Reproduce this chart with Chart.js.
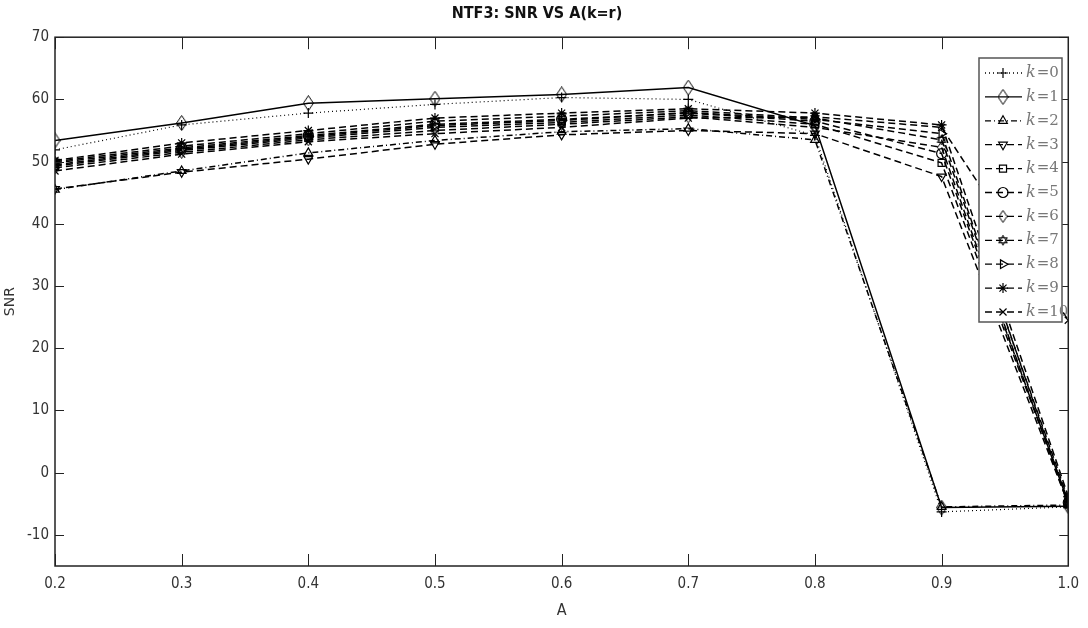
<!DOCTYPE html>
<html>
<head>
<meta charset="utf-8">
<script src="https://cdn.jsdelivr.net/npm/chart.js@4.4.1/dist/chart.umd.min.js"></script>
<style>
html,body{margin:0;padding:0;background:#fff;}
#wrap{width:1088px;height:628px;}
</style>
</head>
<body>
<div id="wrap"><canvas id="c" width="1088" height="628"></canvas></div>
<script>
// ---- data ----
const aValues = [0.2, 0.3, 0.4, 0.5, 0.6, 0.7, 0.8, 0.9, 1.0];
const xTickLabels = [0.2, 0.3, 0.4, 0.5, 0.6, 0.7, 0.8, 0.9, 1.0];
const yTickLabels = [-10, 0, 10, 20, 30, 40, 50, 60, 70];
const seriesNames = ['k=0','k=1','k=2','k=3','k=4','k=5','k=6','k=7','k=8','k=9','k=10'];
const snrK0  = [51.9, 55.9, 57.8, 59.2, 60.3, 60.0, 54.2, -6.3, -5.5];
const snrK1  = [53.4, 56.2, 59.4, 60.1, 60.8, 61.9, 55.8, -5.6, -5.4];
const snrK2  = [45.5, 48.5, 51.4, 53.4, 54.8, 55.3, 53.5, -5.5, -5.2];
const snrK3  = [45.6, 48.3, 50.4, 52.8, 54.3, 55.0, 54.5, 47.6, -5.0];
const snrK4  = [49.3, 51.8, 53.8, 55.5, 56.3, 57.5, 56.0, 49.8, -4.6];
const snrK5  = [49.8, 52.2, 54.2, 56.0, 56.8, 57.8, 56.5, 51.3, -4.8];
const snrK6  = [49.0, 51.5, 53.5, 55.0, 56.0, 57.2, 55.5, 52.3, -5.2];
const snrK7  = [50.0, 52.5, 54.5, 56.5, 57.3, 58.2, 57.0, 53.5, -4.3];
const snrK8  = [49.5, 52.0, 54.0, 55.8, 56.6, 57.9, 56.8, 54.5, -5.0];
const snrK9  = [50.2, 53.0, 55.0, 57.0, 57.8, 58.5, 57.8, 55.9, -3.8];
const snrK10 = [48.5, 51.2, 53.2, 54.5, 55.5, 57.0, 57.2, 55.5, 24.5];
const allSeries = [snrK0, snrK1, snrK2, snrK3, snrK4, snrK5, snrK6, snrK7, snrK8, snrK9, snrK10];

// ---- marker images ----
function hexagram(size){
  const c = document.createElement('canvas'); c.width = size; c.height = size;
  const g = c.getContext('2d'); const m = size/2, r = size/2 - 1;
  g.strokeStyle = '#000'; g.lineWidth = 1;
  for (const rot of [-Math.PI/2, Math.PI/2]) {
    g.beginPath();
    for (let i=0;i<3;i++){ const a = rot + i*2*Math.PI/3; const px = m + r*Math.cos(a), py = m + r*Math.sin(a); i?g.lineTo(px,py):g.moveTo(px,py); }
    g.closePath(); g.stroke();
  }
  return c;
}
function tallDiamond(w,h){
  const c = document.createElement('canvas'); c.width = w; c.height = h;
  const g = c.getContext('2d'); g.strokeStyle='#000'; g.lineWidth=1;
  g.beginPath(); g.moveTo(w/2,0.5); g.lineTo(w-0.5,h/2); g.lineTo(w/2,h-0.5); g.lineTo(0.5,h/2); g.closePath(); g.stroke();
  return c;
}
const hexImg = hexagram(12);
const diaImg = tallDiamond(11,16);
const diaImg2 = tallDiamond(9,13);

const styles = [
  {dash:[1,3], ps:'cross', rot:0},
  {dash:[], ps:diaImg, rot:0},
  {dash:[6,3,1,3], ps:'triangle', rot:0},
  {dash:[7,4], ps:'triangle', rot:180},
  {dash:[7,4], ps:'rect', rot:0},
  {dash:[7,4], ps:'circle', rot:0},
  {dash:[7,4], ps:diaImg2, rot:0},
  {dash:[7,4], ps:hexImg, rot:0},
  {dash:[7,4], ps:'triangle', rot:90},
  {dash:[7,4], ps:'star', rot:0},
  {dash:[7,4], ps:'crossRot', rot:0}
];

const datasets = allSeries.map((vals, i) => ({
  label: seriesNames[i],
  data: aValues.map((a, j) => ({x: a, y: vals[j]})),
  borderColor: '#000',
  borderWidth: i === 0 ? 1.2 : 1.5,
  borderDash: styles[i].dash,
  pointStyle: styles[i].ps,
  pointRotation: styles[i].rot,
  pointRadius: 5,
  pointBorderWidth: 1.2,
  pointBorderColor: '#000',
  pointBackgroundColor: 'rgba(0,0,0,0)',
  tension: 0,
  fill: false
}));

const condensed = "'DejaVu Sans Condensed', 'Liberation Sans Narrow', 'DejaVu Sans', sans-serif";

// frame + inward ticks
const framePlugin = {
  id: 'frame',
  afterDraw(chart) {
    const {ctx, chartArea: a, scales} = chart;
    ctx.save();
    ctx.strokeStyle = '#222'; ctx.lineWidth = 1.5; ctx.setLineDash([]);
    ctx.strokeRect(a.left, a.top, a.right - a.left, a.bottom - a.top);
    ctx.lineWidth = 1;
    for (const v of xTickLabels) {
      const x = Math.round(scales.x.getPixelForValue(v)) + 0.5;
      ctx.beginPath(); ctx.moveTo(x, a.bottom); ctx.lineTo(x, a.bottom - 12); ctx.stroke();
      ctx.beginPath(); ctx.moveTo(x, a.top); ctx.lineTo(x, a.top + 12); ctx.stroke();
    }
    for (const v of yTickLabels) {
      const y = Math.round(scales.y.getPixelForValue(v)) + 0.5;
      ctx.beginPath(); ctx.moveTo(a.left, y); ctx.lineTo(a.left + 9, y); ctx.stroke();
      ctx.beginPath(); ctx.moveTo(a.right, y); ctx.lineTo(a.right - 9, y); ctx.stroke();
    }
    ctx.restore();
  }
};

// MATLAB-like legend box
const legendPlugin = {
  id: 'matLegend',
  afterDraw(chart) {
    const {ctx} = chart;
    const bx = 979, by = 58, bw = 83, bh = 264;
    ctx.save();
    ctx.fillStyle = '#fff'; ctx.fillRect(bx, by, bw, bh);
    ctx.strokeStyle = '#555'; ctx.lineWidth = 1.5; ctx.setLineDash([]);
    ctx.strokeRect(bx, by, bw, bh);
    chart.data.datasets.forEach((ds, i) => {
      const y = by + 15 + i * 23.9;
      ctx.strokeStyle = '#000'; ctx.lineWidth = 1.3;
      ctx.setLineDash(ds.borderDash);
      ctx.beginPath(); ctx.moveTo(bx + 6, y); ctx.lineTo(bx + 43, y); ctx.stroke();
      ctx.setLineDash([]);
      ctx.fillStyle = 'rgba(0,0,0,0)'; ctx.strokeStyle = '#000'; ctx.lineWidth = 1.2;
      Chart.helpers.drawPoint(ctx, {pointStyle: ds.pointStyle, rotation: ds.pointRotation, radius: 5, borderWidth: 1.2}, bx + 24, y);
      const parts = ds.label.split('=');
      ctx.fillStyle = '#777'; ctx.textBaseline = 'middle'; ctx.textAlign = 'left';
      ctx.font = "italic 16px 'DejaVu Serif', 'Liberation Serif', serif";
      let tx = bx + 47;
      ctx.fillText(parts[0], tx, y);
      tx += ctx.measureText(parts[0]).width + 1;
      ctx.font = "15px 'DejaVu Serif', 'Liberation Serif', serif";
      ctx.fillText('=' + parts[1], tx, y);
    });
    ctx.restore();
  }
};

new Chart(document.getElementById('c'), {
  type: 'line',
  data: { datasets },
  options: {
    responsive: false,
    animation: false,
    layout: { padding: { top: 0, right: 14, bottom: 8, left: 0 } },
    plugins: {
      legend: { display: false },
      tooltip: { enabled: false },
      title: {
        display: true,
        text: 'NTF3: SNR VS A(k=r)',
        color: '#111',
        font: { family: condensed, size: 16, weight: 'bold' },
        padding: { top: 4, bottom: 14 }
      }
    },
    scales: {
      x: {
        type: 'linear', min: 0.2, max: 1.0,
        afterBuildTicks: s => { s.ticks = xTickLabels.map(v => ({value: v})); },
        afterFit: s => { s.height = 54; },
        grid: { display: false, drawTicks: false },
        border: { display: false },
        ticks: { color: '#333', padding: 9, font: { family: condensed, size: 15 }, callback: v => Number(v).toFixed(1), maxRotation: 0 },
        title: { display: true, text: 'A', color: '#333', font: { family: condensed, size: 16 }, padding: { top: 2, bottom: 0 } }
      },
      y: {
        type: 'linear', min: -15, max: 70,
        afterBuildTicks: s => { s.ticks = yTickLabels.map(v => ({value: v})); },
        afterFit: s => { s.width = 55; },
        grid: { display: false, drawTicks: false },
        border: { display: false },
        ticks: { color: '#333', padding: 6, font: { family: condensed, size: 15 } },
        title: { display: true, text: 'SNR', color: '#333', font: { family: "'DejaVu Sans', sans-serif", size: 14 }, padding: { top: 2, bottom: 2 } }
      }
    }
  },
  plugins: [framePlugin, legendPlugin]
});
</script>
</body>
</html>
